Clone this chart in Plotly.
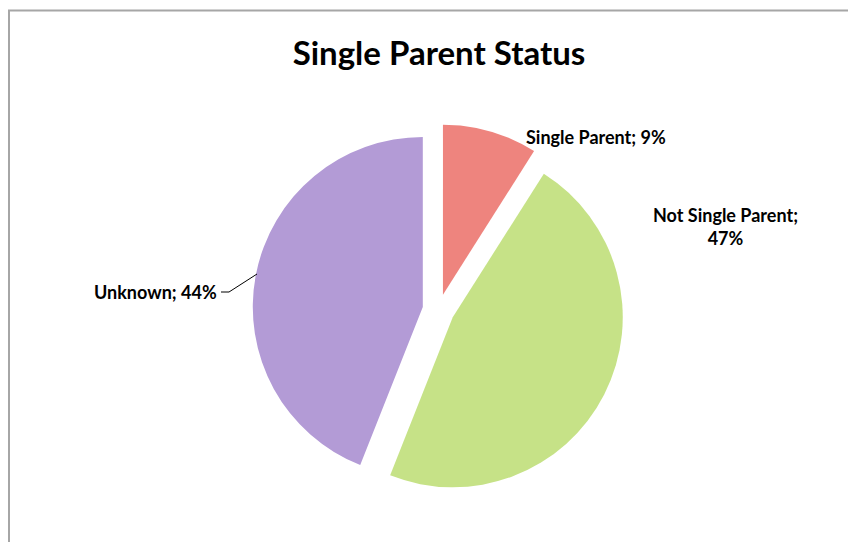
"""
Single Parent Status - exploded pie chart
"""
import plotly.graph_objects as go

labels = ["Single Parent", "Not Single Parent", "Unknown"]
values = [9, 47, 44]
colors = ["#EE847E", "#C6E287", "#B39BD6"]

W, H = 856, 542
OFF = 8  # page body margin pushes the figure 8px right/down
FONT = "Lato"


def px_x(x):
    return (x - OFF) / W


def px_y(y):
    return 1 - (y - OFF) / H


fig = go.Figure()
fig.add_trace(
    go.Pie(
        labels=labels,
        values=values,
        sort=False,
        direction='clockwise',
        rotation=0,
        pull=[0.094, 0.094, 0.094],
        marker=dict(colors=colors, line=dict(width=0)),
        textinfo='none',
        hoverinfo='label+percent',
        showlegend=False,
        domain=dict(x=[px_x(252.5), px_x(624.5)], y=[px_y(496), px_y(124)])
    )
)

pct = [f"{v}%" for v in values]
label_font = dict(family=FONT, size=18, color='#000000')

annotations = [
    dict(text=f"<b>{labels[0]}; {pct[0]}</b>", x=px_x(596), y=px_y(137),
         xanchor='center', yanchor='middle'),
    dict(text=f"<b>{labels[1]};<br>{pct[1]}</b>", x=px_x(725), y=px_y(227),
         xanchor='center', yanchor='middle'),
    dict(text=f"<b>{labels[2]}; {pct[2]}</b>", x=px_x(219), y=px_y(292),
         xanchor='right', yanchor='middle'),
]
for a in annotations:
    a.update(xref='paper', yref='paper', showarrow=False, font=label_font)

fig.update_layout(
    width=W,
    height=H,
    margin=dict(l=0, r=0, t=0, b=0),
    paper_bgcolor='white',
    plot_bgcolor='white',
    title=dict(
        text="<b>Single Parent Status</b>",
        x=px_x(439), y=px_y(53), xanchor='center', yanchor='middle',
        font=dict(family=FONT, size=33, color='#000000')
    ),
    annotations=annotations,
    shapes=[
        # chart area border (runs off the right and bottom edges)
        dict(type='path', xref='paper', yref='paper',
             path=f"M {px_x(9)},{px_y(580)} L {px_x(9)},{px_y(10.5)} L {px_x(900)},{px_y(10.5)}",
             line=dict(color='#A6A6A6', width=2)),
        # leader line for Unknown
        dict(type='path', xref='paper', yref='paper',
             path=f"M {px_x(221)},{px_y(292)} L {px_x(229)},{px_y(292)} L {px_x(257)},{px_y(274)}",
             line=dict(color='#000000', width=1)),
    ],
)

fig.write_html("out.html")
